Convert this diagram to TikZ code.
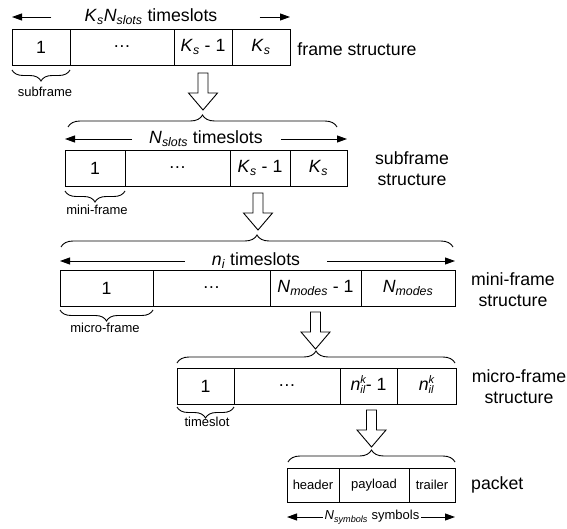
\documentclass[tikz,border=0pt]{standalone}
\usepackage{fontspec}
\setmainfont{Liberation Sans}
\usetikzlibrary{positioning}
\usetikzlibrary{decorations.pathreplacing}
\usetikzlibrary{arrows.meta}

\newcommand{\largetxt}{\fontsize{17.7bp}{21bp}\selectfont}
\newcommand{\smalltxt}{\fontsize{13bp}{15bp}\selectfont}
\newcommand{\vsub}[2]{\textit{#1}\textsubscript{\textit{#2}}}
\newcommand{\nilk}{\textit{n}\raisebox{1.8bp}{\fontsize{11bp}{8.5bp}\selectfont\itshape
  \begin{tabular}[c]{@{}l@{}}k\\il\end{tabular}}}

\tikzset{
  cell/.style={draw, line width=0.9bp, minimum height=36bp, inner sep=0pt, outer sep=0pt, font=\largetxt},
  pcell/.style={cell, minimum height=34bp, font=\smalltxt},
  txt/.style={inner sep=0pt, font=\largetxt},
  note/.style={inner sep=0pt, font=\smalltxt},
  dim/.style={line width=0.9bp, -{Triangle[length=10bp,width=7bp]}},
  topbrace/.style={decorate, decoration={brace, amplitude=12bp}, line width=0.9bp},
  subbrace/.style={decorate, decoration={brace, mirror, amplitude=11bp}, line width=0.9bp},
  fatarrow/.pic={
    \draw[line width=0.9bp, line join=miter] (-5,0) -- (5,0) -- (5,20) -- (14.5,20) -- (0,37)
      -- (-14.5,20) -- (-5,20) -- cycle;
  }
}

\begin{document}
\begin{tikzpicture}[x=1bp, y=-1bp]
    \useasboundingbox (0,0) rectangle (567,529);

    % frame structure
    \node[cell, minimum width=58bp, anchor=north west] (f1) at (12,29) {1};
    \node[cell, minimum width=104bp, right=0pt of f1] (f2) {…};
    \node[cell, minimum width=58bp, right=0pt of f2] (f3) {\vsub{K}{s} - 1};
    \node[cell, minimum width=58bp, right=0pt of f3] (f4) {\vsub{K}{s}};
    \node[txt] (flabel) at (357,49) {frame structure};
    \node[txt] (ft) at (151,17) {\vsub{K}{s}\vsub{N}{slots} timeslots};
    \draw[dim] ([xshift=-33bp]ft.west) -- (ft -| f1.west);
    \draw[dim] ([xshift=42bp]ft.east) -- (ft -| f4.east);
    \draw[subbrace] ([yshift=-5bp]f1.south west) -- ([yshift=-5bp]f1.south east);
    \node[note] (fsub) at (45,92) {subframe};
    \pic (a1) at ([yshift=-8bp]f3.south) {fatarrow};

    % subframe structure
    \node[cell, minimum width=60bp, anchor=north west] (s1) at (65,150) {1};
    \node[cell, minimum width=105bp, right=0pt of s1] (s2) {…};
    \node[cell, minimum width=60bp, right=0pt of s2] (s3) {\vsub{K}{s} - 1};
    \node[cell, minimum width=57bp, right=0pt of s3] (s4) {\vsub{K}{s}};
    \node[txt, align=center] (slabel) at (412,169) {subframe\\structure};
    \node[txt] (st) at (206,139) {\vsub{N}{slots} timeslots};
    \draw[dim] ([xshift=-17bp]st.west) -- (st -| s1.west);
    \draw[dim] ([xshift=18bp]st.east) -- (st -| s4.east);
    \draw[topbrace] ([xshift=3bp,yshift=23bp]s1.north west) -- ([xshift=-10bp,yshift=23bp]s4.north east);
    \draw[subbrace] ([yshift=-5bp]s1.south west) -- ([yshift=-5bp]s1.south east);
    \node[note] (ssub) at (97,210) {mini-frame};
    \pic (a2) at ([xshift=-2bp,yshift=-7bp]s3.south) {fatarrow};

    % mini-frame structure
    \node[cell, minimum width=93bp, anchor=north west] (m1) at (60,270) {1};
    \node[cell, minimum width=117bp, right=0pt of m1] (m2) {…};
    \node[cell, minimum width=91bp, right=0pt of m2] (m3) {\vsub{N}{modes} - 1};
    \node[cell, minimum width=94bp, right=0pt of m3] (m4) {\vsub{N}{modes}};
    \node[txt, align=center] (mlabel) at (513,290) {mini-frame\\structure};
    \node[txt] (mt) at (256,261) {\vsub{n}{i} timeslots};
    \draw[dim] ([xshift=-27bp]mt.west) -- (mt -| m1.west);
    \draw[dim] ([xshift=27bp]mt.east) -- (mt -| m4.east);
    \draw[topbrace] ([xshift=1bp,yshift=23bp]m1.north west) -- ([xshift=-2bp,yshift=23bp]m4.north east);
    \draw[subbrace] ([yshift=-4bp]m1.south west) -- ([yshift=-4bp]m1.south east);
    \node[note] (msub) at (105,328) {micro-frame};
    \pic (a3) at ([yshift=-6bp]m3.south) {fatarrow};

    % micro-frame structure
    \node[cell, minimum width=57bp, anchor=north west] (c1) at (177,368) {1};
    \node[cell, minimum width=106bp, right=0pt of c1] (c2) {…};
    \node[cell, minimum width=57bp, right=0pt of c2] (c3) {\nilk- 1};
    \node[cell, minimum width=59bp, right=0pt of c3] (c4) {\nilk};
    \node[txt, align=center] (clabel) at (519,387) {micro-frame\\structure};
    \draw[topbrace] ([yshift=5bp]c1.north west) -- ([xshift=-1bp,yshift=5bp]c4.north east);
    \draw[subbrace] ([yshift=-3bp]c1.south west) -- ([yshift=-3bp]c1.south east);
    \node[note] (csub) at (207,422) {timeslot};
    \pic (a4) at ([xshift=3bp,yshift=-6bp]c3.south) {fatarrow};

    % packet
    \node[pcell, minimum width=52bp, anchor=north west] (p1) at (287,468) {header};
    \node[pcell, minimum width=70bp, right=0pt of p1] (p2) {payload};
    \node[pcell, minimum width=46bp, right=0pt of p2] (p3) {trailer};
    \node[txt, anchor=west] (plabel) at (471,485) {packet};
    \draw[topbrace] ([xshift=1bp,yshift=6bp]p1.north west) -- ([yshift=6bp]p3.north east);
    \node[note] (pt) at (372,517) {\vsub{N}{symbols} symbols};
    \draw[dim] ([xshift=-2bp]pt.west) -- (pt -| p1.west);
    \draw[dim] ([xshift=2bp]pt.east) -- (pt -| p3.east);
\end{tikzpicture}
\end{document}
